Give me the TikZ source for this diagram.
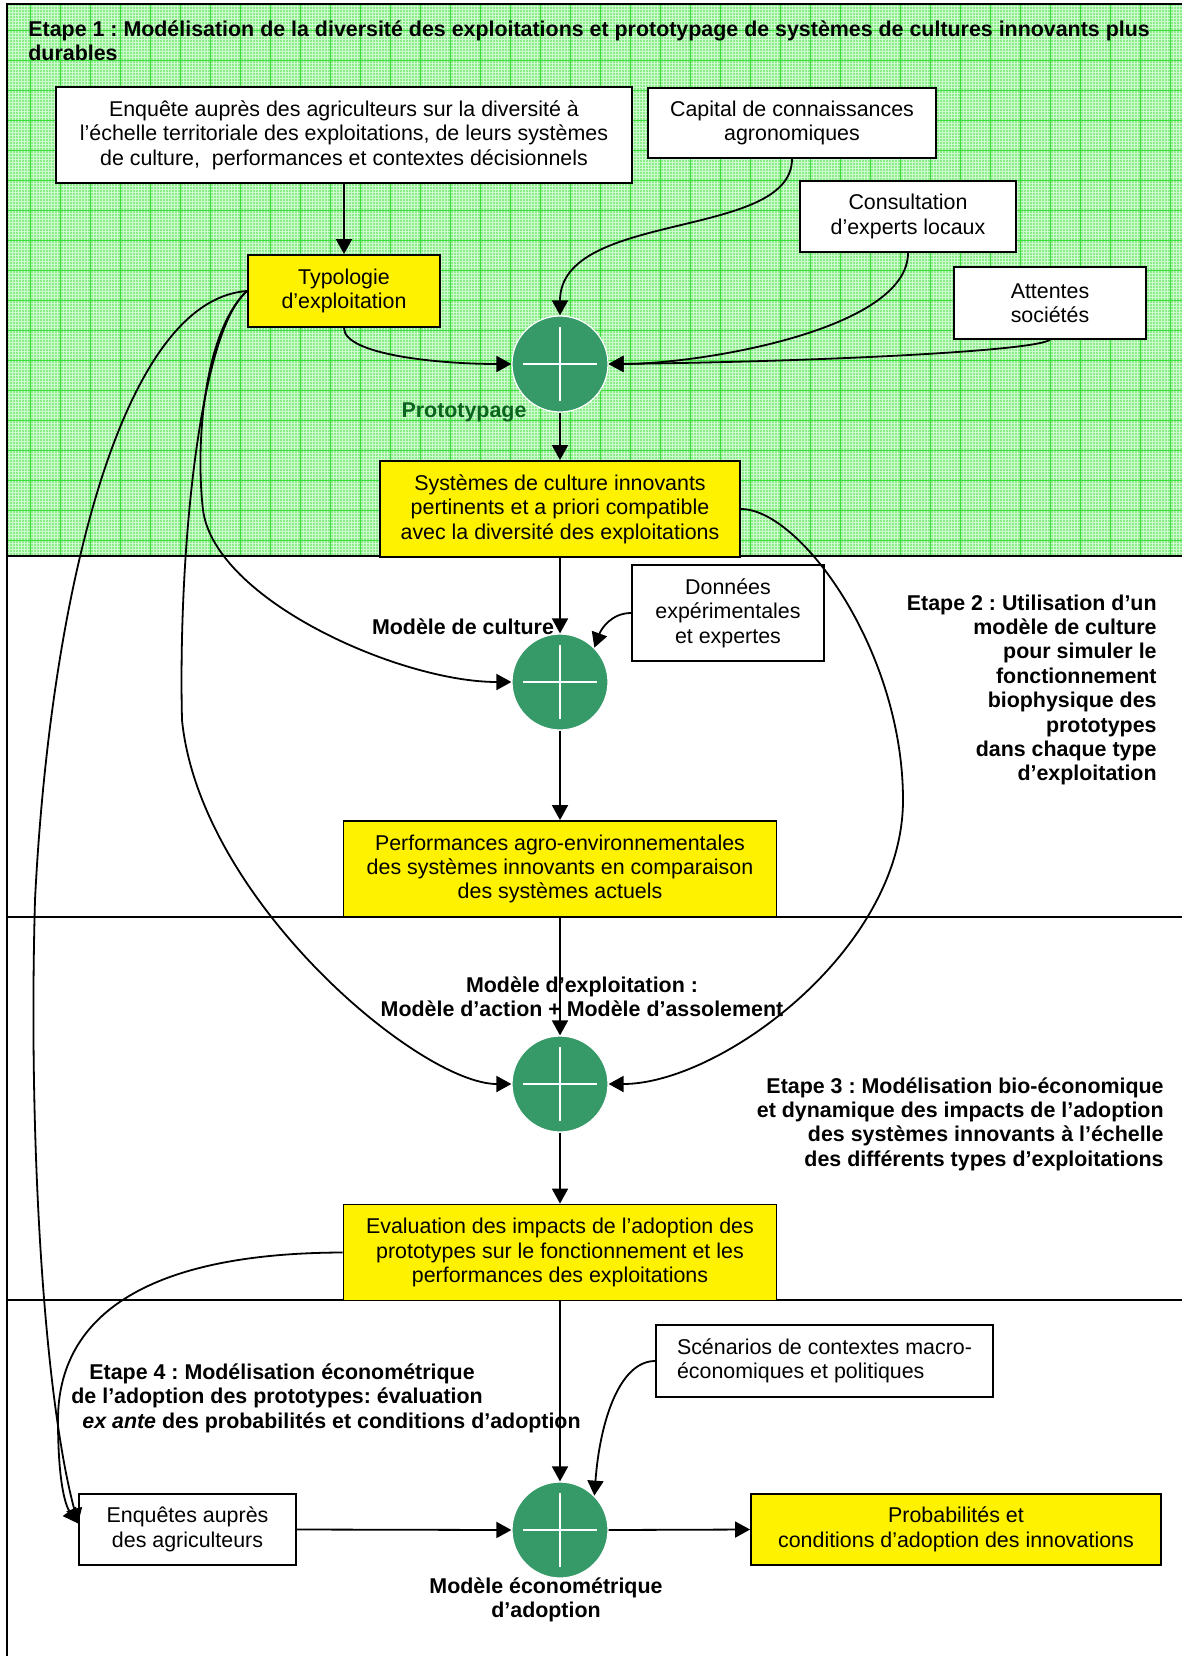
\documentclass[tikz,border=0pt]{standalone}
\usepackage{fontspec}
\setmainfont{Liberation Sans}
\usetikzlibrary{arrows.meta}
\definecolor{paleground}{RGB}{140,236,140}
\definecolor{finegreen}{RGB}{205,251,205}
\definecolor{gridgreen}{RGB}{60,222,60}
\definecolor{sumgreen}{RGB}{54,153,104}
\definecolor{protogreen}{RGB}{10,100,30}
\tikzset{
  box/.style={draw,line width=0.9pt,fill=white,align=center,inner sep=2pt},
  yellowbox/.style={box,fill=yellow},
  sumnode/.style={circle,fill=sumgreen,draw=white,line width=0.6pt,minimum size=48pt,inner sep=0pt,
    path picture={\draw[white,line width=0.7pt]
      ([xshift=-18.5pt]path picture bounding box.center) -- ([xshift=18.5pt]path picture bounding box.center)
      ([yshift=-18.5pt]path picture bounding box.center) -- ([yshift=18.5pt]path picture bounding box.center);}},
  flow/.style={line width=0.9pt,-{Triangle[length=7.5pt,width=8pt]}},
  steplabel/.style={font=\bfseries,inner sep=0pt},
  frameline/.style={line width=1pt}
}
\frenchspacing
\begin{document}
\fontsize{10.7}{12.2}\selectfont
\begin{tikzpicture}[x=0.5pt,y=-0.5pt]
  \useasboundingbox (0,0) rectangle (1182,1656);
  \fill[paleground] (7,4) rectangle (1182,556);
  \draw[finegreen,line width=0.4pt,step=1.5pt] (7,556) grid (1182,4);
  \draw[gridgreen,line width=0.4pt,step=15pt] (7,556) grid (1182,4);
  \draw[frameline] (1182,4) -- (7,4) -- (7,1656);
  \draw[frameline] (7,556) -- (1182,556);
  \draw[frameline] (7,917) -- (1182,917);
  \draw[frameline] (7,1300) -- (1182,1300);

  \node[steplabel,anchor=west,align=left] (stepA) at (28,41) {Etape 1 : Modélisation de la diversité des exploitations et prototypage de systèmes de cultures innovants plus\\durables};
  \node[box,minimum width=288pt,minimum height=48pt] (enq) at (344,135) {Enquête auprès des agriculteurs sur la diversité à\\l’échelle territoriale des exploitations, de leurs systèmes\\de culture,~ performances et contextes décisionnels};
  \node[box,minimum width=144pt,minimum height=35pt] (cap) at (792,123) {Capital de connaissances\\agronomiques};
  \node[box,minimum width=108pt,minimum height=35.5pt] (cons) at (908,216.5) {Consultation\\d’experts locaux};
  \node[box,minimum width=96pt,minimum height=36pt] (att) at (1050,303) {Attentes\\sociétés};
  \node[yellowbox,minimum width=96pt,minimum height=36pt] (typ) at (344,291) {Typologie\\d’exploitation};
  \node[sumnode] (c1) at (560,364) {};
  \node[steplabel,text=protogreen] (proto) at (464,412) {Prototypage};
  \node[yellowbox,minimum width=180pt,minimum height=48pt] (sys) at (560,509) {Systèmes de culture innovants\\pertinents et a priori compatible\\avec la diversité des exploitations};

  \node[box,minimum width=96pt,minimum height=48pt] (don) at (728,613) {Données\\expérimentales\\et expertes};
  \node[steplabel] (cropmod) at (463,627) {Modèle de culture};
  \node[sumnode] (c2) at (560,682) {};
  \node[yellowbox,minimum width=216.5pt,minimum height=48pt] (perf) at (560,869) {Performances agro-environnementales\\des systèmes innovants en comparaison\\des systèmes actuels};
  \node[steplabel,anchor=east,align=right] (stepB) at (1157,690) {Etape 2 : Utilisation d’un\\modèle de culture\\pour simuler le\\fonctionnement\\biophysique des\\prototypes\\dans chaque type\\d’exploitation};

  \node[steplabel,align=center] (farmmod) at (582,997) {Modèle d’exploitation :\\Modèle d’action + Modèle d’assolement};
  \node[sumnode] (c3) at (560,1084) {};
  \node[steplabel,anchor=east,align=right] (stepC) at (1164,1124) {Etape 3 : Modélisation bio-économique\\et dynamique des impacts de l’adoption\\des systèmes innovants à l’échelle\\des différents types d’exploitations};
  \node[yellowbox,minimum width=216.5pt,minimum height=48pt] (eval) at (560,1252.5) {Evaluation des impacts de l’adoption des\\prototypes sur le fonctionnement et les\\performances des exploitations};

  \node[box,align=left,minimum width=168.5pt,minimum height=36pt] (scen) at (824.5,1361) {Scénarios de contextes macro-\\économiques et politiques};
  \node[steplabel,anchor=west,align=left] (stepD) at (71,1398) {\hspace*{9pt}Etape 4 : Modélisation économétrique\\de l’adoption des prototypes: évaluation\\\hspace*{5.5pt}\textit{ex ante} des probabilités et conditions d’adoption};
  \node[sumnode] (c4) at (560,1530) {};
  \node[box,minimum width=108.5pt,minimum height=35.5pt] (survey) at (187.5,1529.5) {Enquêtes auprès\\des agriculteurs};
  \node[yellowbox,minimum width=205pt,minimum height=35.5pt] (prob) at (956,1529.5) {Probabilités et\\conditions d’adoption des innovations};
  \node[steplabel,align=center] (econmod) at (546,1600) {Modèle économétrique\\d’adoption};

  \draw[flow] (enq.south) -- (typ.north);
  \draw[flow] (typ.south) .. controls (344,355) and (440,364) .. (c1.west);
  \draw[flow] (cap.south) .. controls (792,240) and (560,210) .. (c1.north);
  \draw[flow] (cons.south) .. controls (908,330) and (700,364) .. (c1.east);
  \draw[flow] (att.south) .. controls (1030,352) and (800,362) .. (c1.east);
  \draw[flow] (c1.south) -- (sys.north);
  \draw[flow] (sys.south) -- (c2.north);
  \draw[flow] (don.west) to[out=180,in=70] (c2.45);
  \draw[flow] (typ.west) .. controls (205,330) and (195,440) .. (203,510) .. controls (215,600) and (400,682) .. (c2.west);
  \draw[flow] (c2.south) -- (perf.north);
  \draw[flow] (perf.south) -- (c3.north);
  \draw[flow] (typ.west) .. controls (200,330) and (178,550) .. (182,720) .. controls (200,900) and (420,1084) .. (c3.west);
  \draw[flow] (sys.east) .. controls (800,509) and (903,650) .. (903,800) .. controls (903,950) and (720,1084) .. (c3.east);
  \draw[flow] (c3.south) -- (eval.north);
  \draw[flow] (typ.west) .. controls (120,300) and (50,600) .. (35,900) .. controls (28,1150) and (45,1400) .. ([yshift=3pt]survey.west);
  \draw[flow] (eval.west) .. controls (140,1253) and (58,1320) .. (58,1420) .. controls (58,1480) and (65,1505) .. ([yshift=3pt]survey.west);
  \draw[flow] (eval.south) -- (c4.north);
  \draw[flow] (scen.west) .. controls (620,1361) and (600,1420) .. (c4.45);
  \draw[flow] (survey.east) -- (c4.west);
  \draw[flow] (c4.east) -- (prob.west);
\end{tikzpicture}
\end{document}
